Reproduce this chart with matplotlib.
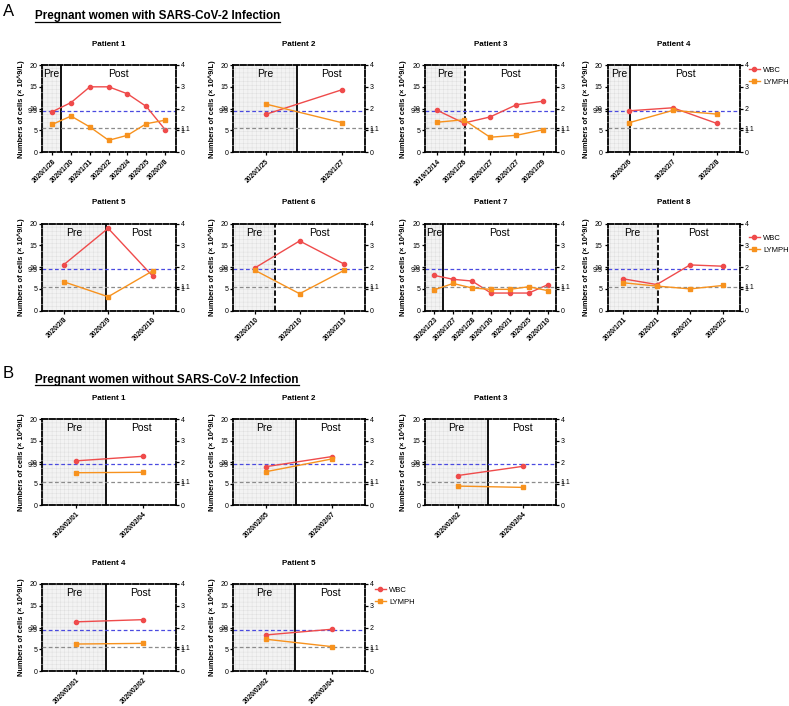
import matplotlib
matplotlib.use("Agg")
from matplotlib import pyplot as plt
from matplotlib.lines import Line2D
from matplotlib.patches import Rectangle

plt.rcParams['font.family'] = ['Liberation Sans', 'DejaVu Sans']
plt.rcParams['hatch.linewidth'] = 0.3

# ---- data: pregnant women with SARS-CoV-2 infection (A) ----
a_titles = ["Patient 1", "Patient 2", "Patient 3", "Patient 4",
            "Patient 5", "Patient 6", "Patient 7", "Patient 8"]
a_dates = [
    ["2020/1/28", "2020/1/30", "2020/1/31", "2020/2/2", "2020/2/4", "2020/2/5", "2020/2/8"],
    ["2020/1/25", "2020/1/27"],
    ["2019/12/14", "2020/1/26", "2020/1/27", "2020/1/27", "2020/1/29"],
    ["2020/2/6", "2020/2/7", "2020/2/8"],
    ["2020/2/8", "2020/2/9", "2020/2/10"],
    ["2020/2/10", "2020/2/10", "2020/2/13"],
    ["2020/1/23", "2020/1/27", "2020/1/28", "2020/1/30", "2020/2/1", "2020/2/5", "2020/2/10"],
    ["2020/1/31", "2020/2/1", "2020/2/1", "2020/2/2"],
]
a_wbc = [
    [9.3, 11.4, 15.0, 15.0, 13.4, 10.5, 5.2],
    [8.7, 14.3],
    [9.6, 6.7, 8.1, 10.9, 11.7],
    [9.5, 10.2, 6.6],
    [10.5, 18.9, 7.9],
    [9.85, 16.0, 10.7],
    [8.1, 7.2, 6.8, 4.05, 4.05, 4.05, 5.95],
    [7.3, 6.0, 10.5, 10.2],
]
a_lymph = [
    [1.28, 1.66, 1.16, 0.55, 0.78, 1.31, 1.47],
    [2.21, 1.36],
    [1.38, 1.49, 0.69, 0.78, 1.03],
    [1.35, 1.92, 1.75],
    [1.33, 0.64, 1.83],
    [1.85, 0.78, 1.85],
    [0.96, 1.25, 1.04, 0.98, 0.98, 1.10, 0.92],
    [1.28, 1.13, 1.00, 1.16],
]

# ---- data: pregnant women without SARS-CoV-2 infection (B) ----
b_titles = ["Patient 1", "Patient 2", "Patient 3", "Patient 4", "Patient 5"]
b_dates = [
    ["2020/02/01", "2020/02/04"],
    ["2020/02/05", "2020/02/07"],
    ["2020/02/02", "2020/02/04"],
    ["2020/02/01", "2020/02/02"],
    ["2020/02/02", "2020/02/04"],
]
b_wbc = [[10.3, 11.35], [8.96, 11.3], [6.9, 9.04], [11.3, 11.8], [8.3, 9.6]]
b_lymph = [[1.51, 1.53], [1.56, 2.15], [0.89, 0.83], [1.24, 1.27], [1.46, 1.12]]

wbc_ref = 9.5     # left axis
lymph_ref = 1.1   # right axis

# ---- layout (pixel boxes, split position between Pre and Post) ----
cols = [(42.3, 176), (233.3, 365), (425, 556), (607.5, 740)]
rows = [(65, 152.3), (223.5, 310.7), (419, 505.3), (584, 671)]
a_split = [0.47, 0.41, 1.05, 0.03, 0.96, 0.44, 0.48, 1.03]
a_split_dashed = [False, False, True, False, False, True, False, True]
a_xlim = [(-0.53, 6.58), (-0.43, 1.31), (-0.47, 4.5), (-0.48, 2.52),
          (-0.475, 2.52), (-0.49, 2.47), (-0.49, 6.44), (-0.48, 3.5)]
b_split = [0.46, 0.45, 0.46, 0.45, 0.44]

W, H = 789, 706
WBC_C = "#ef4b4b"
LYM_C = "#f7921e"

fig = plt.figure(figsize=(W / 100, H / 100), dpi=100)


def add_box(col, row):
    x0, x1 = cols[col]
    y0, y1 = rows[row]
    return fig.add_axes([x0 / W, 1 - y1 / H, (x1 - x0) / W, (y1 - y0) / H])


def panel(ax, title, dates, wbc, lymph, split, dashed, xlim):
    n = len(dates)
    x = list(range(n))
    ax.set_xlim(*xlim)
    ax.set_ylim(0, 20)
    ax2 = ax.twinx()
    ax2.set_ylim(0, 4)

    # shaded Pre region
    ax.add_patch(Rectangle((xlim[0], 0), split - xlim[0], 20, facecolor="#f3f3f3",
                           edgecolor="#dcdcdc", hatch="++++", linewidth=0, zorder=0))
    ax.axvline(split, color="black", lw=1.3, ls=(0, (3, 1.2)) if dashed else "-", zorder=1)
    ax.axhline(wbc_ref, color="#4a4ae0", lw=0.9, ls=(0, (3, 2)), zorder=1)
    ax2.axhline(lymph_ref, color="#8c8c8c", lw=0.9, ls=(0, (3, 2)), zorder=1)

    ax.plot(x, wbc, color=WBC_C, lw=1, marker="o", ms=3, zorder=3, label="WBC")
    ax2.plot(x, lymph, color=LYM_C, lw=1, marker="s", ms=3, zorder=3, label="LYMPH")

    ax.text((xlim[0] + split) / 2, 19, "Pre", ha="center", va="top", fontsize=7.5)
    ax.text((split + xlim[1]) / 2, 19, "Post", ha="center", va="top", fontsize=7.5)

    ax.set_xticks(x)
    ax.set_xticklabels(dates, rotation=45, ha="right", rotation_mode="anchor",
                       fontsize=4.9, fontweight="bold")
    ax.set_yticks([0, 5, 9.5, 10, 15, 20])
    ax.set_yticklabels(["0", "5", "9.5", "10", "15", "20"], fontsize=5)
    ax2.set_yticks([0, 1, 1.1, 2, 3, 4])
    ax2.set_yticklabels(["0", "1", "1.1", "2", "3", "4"], fontsize=5)
    ax.tick_params(axis="x", length=2.5, width=0.9, pad=1.5)
    ax.tick_params(axis="y", length=2.5, width=0.9, pad=1)
    ax2.tick_params(axis="y", length=2.5, width=0.9, pad=1)

    for s in ax.spines.values():
        s.set_linestyle((0, (3, 1.2)))
        s.set_linewidth(1.3)
    ax.spines["right"].set_visible(False)
    for k in ["left", "top", "bottom"]:
        ax2.spines[k].set_visible(False)
    ax2.spines["right"].set_linestyle((0, (3, 1.2)))
    ax2.spines["right"].set_linewidth(1.3)

    ax.set_ylabel("Numbers of cells (× 10^9/L)", fontsize=5.4, fontweight="bold", labelpad=2)
    ax.set_title(title, fontsize=5.8, fontweight="bold", pad=14)
    return ax, ax2


for i in range(8):
    ax = add_box(i % 4, i // 4)
    panel(ax, a_titles[i], a_dates[i], a_wbc[i], a_lymph[i],
          a_split[i], a_split_dashed[i], a_xlim[i])

for j in range(5):
    ax = add_box(j % 3, 2 + j // 3)
    panel(ax, b_titles[j], b_dates[j], b_wbc[j], b_lymph[j],
          b_split[j], False, (-0.5, 1.5))

# legends
handles = [Line2D([], [], color=WBC_C, lw=1, marker="o", ms=3),
           Line2D([], [], color=LYM_C, lw=1, marker="s", ms=3)]
for (lx, ly) in [(745, 63), (745, 231), (371, 583)]:
    fig.legend(handles, ["WBC", "LYMPH"], loc="upper left",
               bbox_to_anchor=(lx / W, 1 - ly / H), frameon=False, fontsize=5.5,
               handlelength=1.4, handletextpad=0.5, labelspacing=0.6, borderpad=0)

# section headers
fig.text(3 / W, 1 - 11 / H, "A", fontsize=12, va="center")
fig.text(3 / W, 1 - 374 / H, "B", fontsize=12, va="center")
t1 = fig.text(35 / W, 1 - 16 / H, "Pregnant women with SARS-CoV-2 Infection",
              fontsize=8.4, fontweight="bold", va="center")
t2 = fig.text(35 / W, 1 - 380 / H, "Pregnant women without SARS-CoV-2 Infection",
              fontsize=8.4, fontweight="bold", va="center")
fig.canvas.draw()
for t in (t1, t2):
    bb = t.get_window_extent()
    y = (bb.y0 + 0.5) / fig.bbox.height
    fig.add_artist(Line2D([bb.x0 / fig.bbox.width, bb.x1 / fig.bbox.width], [y, y],
                          color="black", lw=0.9, transform=fig.transFigure))

fig.savefig("out.png", dpi=100)
